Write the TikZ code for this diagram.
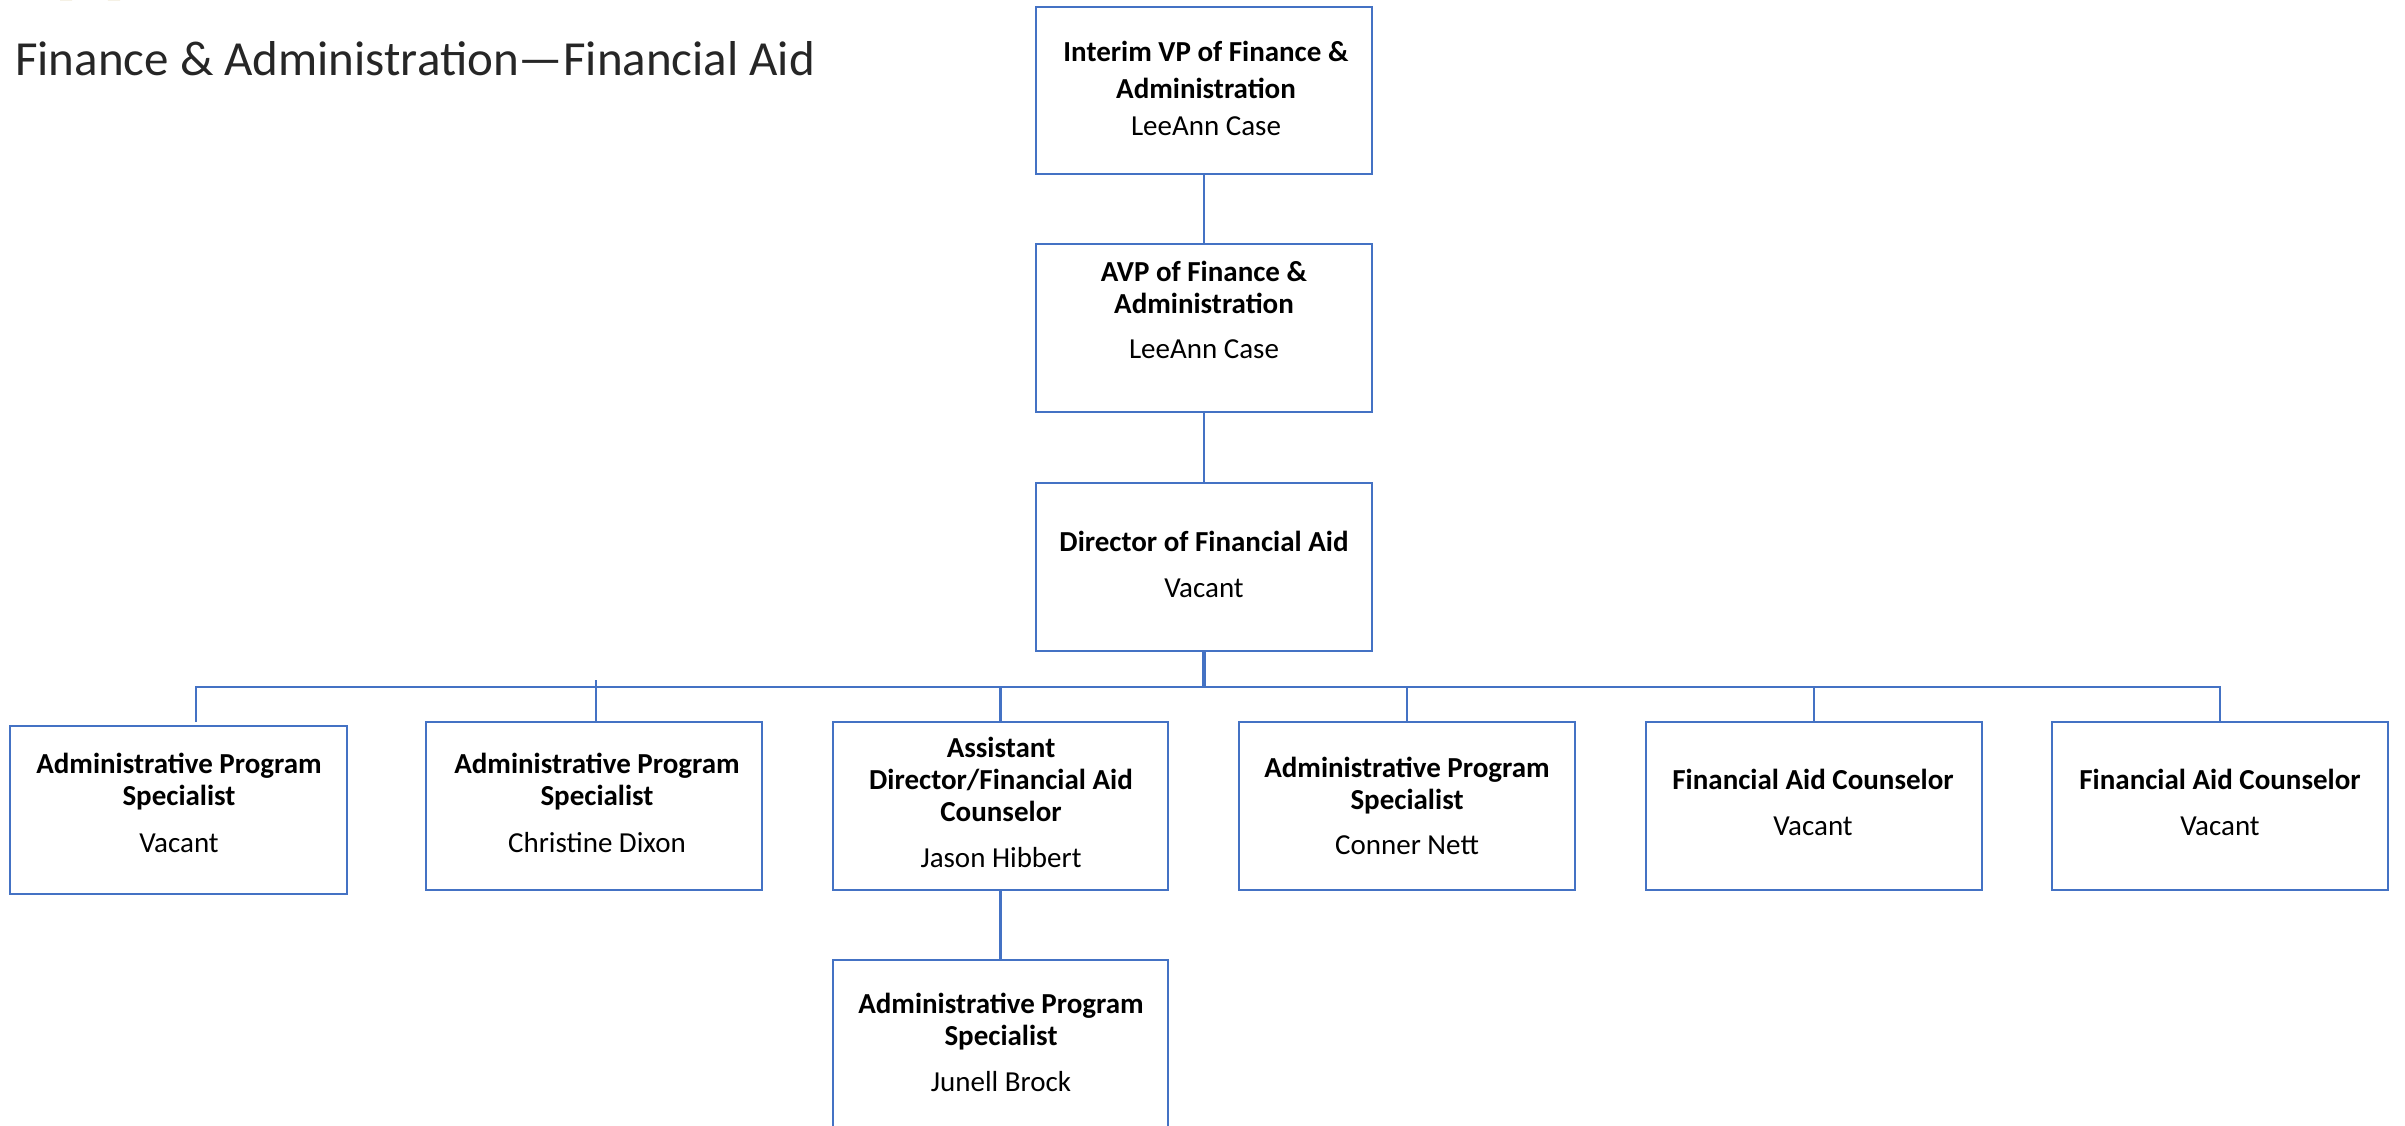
\documentclass[tikz,border=0pt]{standalone}
\usepackage{fontspec}
\setmainfont{Carlito}
\definecolor{orgblue}{HTML}{4472C4}
\definecolor{gold}{HTML}{B08D2E}
\tikzset{x=1pt,y=-1pt,
  orgbox/.style={draw=orgblue,line width=2.6pt,rectangle,inner sep=0pt,fill=none},
  orgtext/.style={anchor=north,align=center,inner sep=0pt,font=\fontsize{29}{32}\selectfont,text=black},
  conn/.style={draw=orgblue,line width=2.6pt},
  thinconn/.style={draw=orgblue,line width=1.4pt},
  titletext/.style={anchor=base west,inner sep=0pt,font=\fontsize{49}{50}\selectfont,text=black!85}
}
\newcommand{\ob}[6]{% name, x1,y1,x2,y2, unused
  \path let \n1={#4-#2},\n2={#5-#3} in node[orgbox,minimum width=\n1,minimum height=\n2] (#1) at ({(#2+#4)/2},{(#3+#5)/2}) {};
}
\newcommand{\ot}[4]{% name,x,first baseline,text
  \node[orgtext] (#1) at (#2,#3-30) {\rule{0pt}{30pt}#4};
}
\usetikzlibrary{calc}
\begin{document}
\begin{tikzpicture}
\useasboundingbox (0,0) rectangle (2405,1125);
\clip (0,0) rectangle (2405,1125);
\ob{vp}{1036}{7}{1372}{174}{}
\ob{avp}{1036}{244}{1372}{412}{}
\ob{dir}{1036}{483}{1372}{651}{}
\ob{cA}{10}{726}{347}{894}{}
\ob{cB}{426}{722}{762}{890}{}
\ob{cC}{833}{722}{1168}{890}{}
\ob{cD}{1239}{722}{1575}{890}{}
\ob{cE}{1646}{722}{1982}{890}{}
\ob{cF}{2052}{722}{2388}{890}{}
\ob{sub}{833}{960}{1168}{1128}{}
\ot{tvp}{1206}{61}{\textbf{Interim VP of Finance \&}\\[5pt]\textbf{Administration}\\[5pt]LeeAnn Case}
\ot{tavp}{1204}{281}{\textbf{AVP of Finance \&}\\\textbf{Administration}\\[13pt]LeeAnn Case}
\ot{tdir}{1204}{551}{\textbf{Director of Financial Aid}\\[14pt]Vacant}
\ot{tA}{179}{773}{\textbf{Administrative Program}\\\textbf{Specialist}\\[15pt]Vacant}
\ot{tB}{597}{773}{\textbf{Administrative Program}\\\textbf{Specialist}\\[15pt]Christine Dixon}
\ot{tC}{1001}{757}{\textbf{Assistant}\\\textbf{Director/Financial Aid}\\\textbf{Counselor}\\[14pt]Jason Hibbert}
\ot{tD}{1407}{777}{\textbf{Administrative Program}\\\textbf{Specialist}\\[13pt]Conner Nett}
\ot{tE}{1813}{789}{\textbf{Financial Aid Counselor}\\[14pt]Vacant}
\ot{tF}{2220}{789}{\textbf{Financial Aid Counselor}\\[14pt]Vacant}
\ot{tsub}{1001}{1013}{\textbf{Administrative Program}\\\textbf{Specialist}\\[14pt]Junell Brock}
\node[titletext] (title) at (15,75) {Finance \& Administration—Financial Aid};
\coordinate (busL) at (196,687);
\coordinate (busR) at (cF.north |- busL);
\coordinate (stubA) at (196,722);
\coordinate (stubBtop) at (596,680);
\coordinate (stubBbot) at (596,722);
\draw[conn] (vp.south) -- (avp.north);
\draw[conn] (avp.south) -- (dir.north);
\draw[conn,line width=3.4pt] (dir.south) -- (dir.south |- busL);
\draw[conn] (stubA) -- (busL) -- (busR) -- (cF.north);
\draw[thinconn] (stubBtop) -- (stubBbot);
\draw[conn] (cC.north |- busL) -- (cC.north);
\draw[conn] (cD.north |- busL) -- (cD.north);
\draw[conn] (cE.north |- busL) -- (cE.north);
\draw[conn] (cC.south) -- (sub.north);
\fill[gold] (60,0) arc[start angle=180,end angle=360,x radius=30,y radius=7.5] -- (108,0) arc[start angle=0,end angle=-180,x radius=18,y radius=3] -- cycle;
\end{tikzpicture}
\end{document}
